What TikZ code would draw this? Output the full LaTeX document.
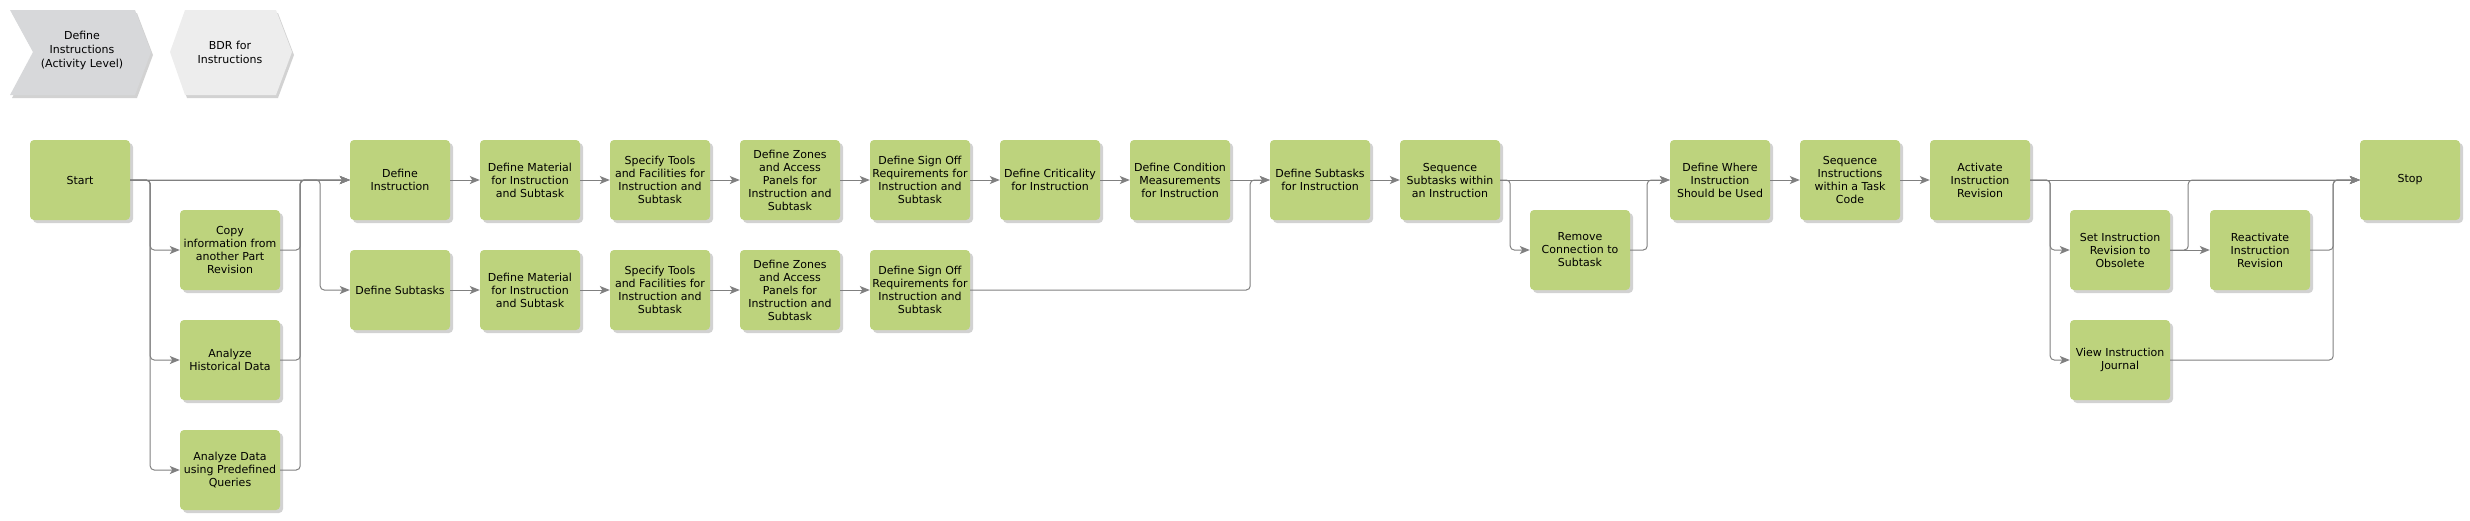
\documentclass[tikz,border=0pt]{standalone}
\usepackage{fontspec}
\setmainfont{DejaVu Sans}
\usetikzlibrary{arrows.meta,shadows}

\definecolor{taskgreen}{RGB}{189,211,125}
\definecolor{flowgrey}{RGB}{128,128,128}
\definecolor{chevgrey}{RGB}{215,216,218}
\definecolor{hexgrey}{RGB}{237,237,237}

\tikzset{
	task/.style={rectangle, rounded corners=4pt, fill=taskgreen, minimum width=100pt, minimum height=80pt, inner sep=1pt, align=center, font=\fontsize{11}{13}\selectfont, drop shadow={shadow xshift=3pt, shadow yshift=-3pt, fill=black!35}},
	flow/.style={draw=flowgrey, line width=1pt, rounded corners=4pt, -{Stealth[length=10pt,width=8pt,inset=2.5pt]}},
	label/.style={align=center, font=\fontsize{11}{14}\selectfont}
}

\begin{document}
\begin{tikzpicture}[x=1pt, y=-1pt]
		\useasboundingbox (0,0) rectangle (2470,520);

		%process path
		\fill[chevgrey, drop shadow={shadow xshift=2pt, shadow yshift=-3pt, fill=black!35}] (10,10) -- (135,10) -- (151,52) -- (135,95) -- (10,95) -- (33,52) -- cycle;
		\node[label] (activity) at (82,50) {Define\\Instructions\\(Activity Level)};
		\fill[hexgrey, drop shadow={shadow xshift=2pt, shadow yshift=-3pt, fill=black!35}] (185,10) -- (276,10) -- (292,52) -- (276,95) -- (185,95) -- (170,52) -- cycle;
		\node[label] (bdr) at (230,52) {BDR for\\Instructions};

		%start and preparation
		\node[task] (start) at (80,180) {Start};
		\node[task] (copy) at (230,250) {Copy\\information from\\another Part\\Revision};
		\node[task] (hist) at (230,360) {Analyze\\Historical Data};
		\node[task] (query) at (230,470) {Analyze Data\\using Predefined\\Queries};

		%instruction row
		\node[task] (definstr) at (400,180) {Define\\Instruction};
		\node[task] (defmat) at (530,180) {Define Material\\for Instruction\\and Subtask};
		\node[task] (tools) at (660,180) {Specify Tools\\and Facilities for\\Instruction and\\Subtask};
		\node[task] (zones) at (790,180) {Define Zones\\and Access\\Panels for\\Instruction and\\Subtask};
		\node[task] (signoff) at (920,180) {Define Sign Off\\Requirements for\\Instruction and\\Subtask};
		\node[task] (crit) at (1050,180) {Define Criticality\\for Instruction};
		\node[task] (cond) at (1180,180) {Define Condition\\Measurements\\for Instruction};

		%subtask row
		\node[task] (defsub) at (400,290) {Define Subtasks};
		\node[task] (defmatb) at (530,290) {Define Material\\for Instruction\\and Subtask};
		\node[task] (toolsb) at (660,290) {Specify Tools\\and Facilities for\\Instruction and\\Subtask};
		\node[task] (zonesb) at (790,290) {Define Zones\\and Access\\Panels for\\Instruction and\\Subtask};
		\node[task] (signoffb) at (920,290) {Define Sign Off\\Requirements for\\Instruction and\\Subtask};

		%sequencing
		\node[task] (subinstr) at (1320,180) {Define Subtasks\\for Instruction};
		\node[task] (seqsub) at (1450,180) {Sequence\\Subtasks within\\an Instruction};
		\node[task] (remove) at (1580,250) {Remove\\Connection to\\Subtask};
		\node[task] (where) at (1720,180) {Define Where\\Instruction\\Should be Used};
		\node[task] (seqinstr) at (1850,180) {Sequence\\Instructions\\within a Task\\Code};
		\node[task] (activate) at (1980,180) {Activate\\Instruction\\Revision};

		%revision
		\node[task] (obsolete) at (2120,250) {Set Instruction\\Revision to\\Obsolete};
		\node[task] (journal) at (2120,360) {View Instruction\\Journal};
		\node[task] (reactivate) at (2260,250) {Reactivate\\Instruction\\Revision};
		\node[task] (stop) at (2410,180) {Stop};

		%connectors
		\draw[flow] (start.east) -- (definstr.west);
		\foreach \n in {copy,hist,query}{
			\draw[flow] (start.east) -- ++(20,0) |- (\n.west);
			\draw[flow] (\n.east) -- ++(20,0) |- (definstr.west);
		}
		\draw[flow] (start.east) -- ++(190,0) |- (defsub.west);

		\foreach \a/\b in {definstr/defmat,defmat/tools,tools/zones,zones/signoff,signoff/crit,crit/cond,cond/subinstr,defsub/defmatb,defmatb/toolsb,toolsb/zonesb,zonesb/signoffb,subinstr/seqsub,seqsub/where,where/seqinstr,seqinstr/activate,activate/stop,obsolete/reactivate}{
			\draw[flow] (\a.east) -- (\b.west);
		}
		\draw[flow] (signoffb.east) -- ++(280,0) |- (subinstr.west);

		\draw[flow] (seqsub.east) -- ++(10,0) |- (remove.west);
		\draw[flow] (remove.east) -- ++(17,0) |- (where.west);

		\draw[flow] (activate.east) -- ++(20,0) |- (obsolete.west);
		\draw[flow] (activate.east) -- ++(20,0) |- (journal.west);
		\draw[flow] (obsolete.east) -- ++(18,0) |- (stop.west);
		\draw[flow] (reactivate.east) -- ++(23,0) |- (stop.west);
		\draw[flow] (journal.east) -- ++(163,0) |- (stop.west);
	\end{tikzpicture}
\end{document}
